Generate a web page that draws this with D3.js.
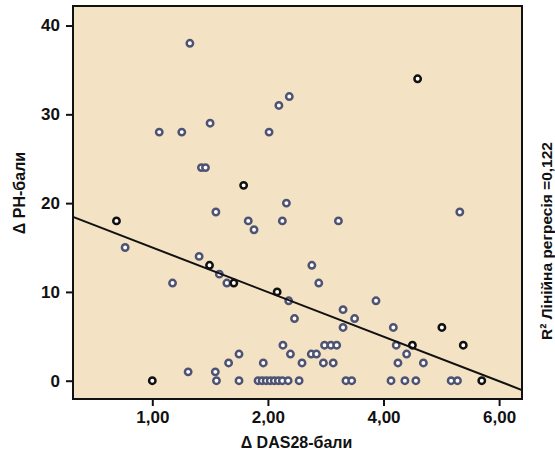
<!DOCTYPE html>
<html>
<head>
<meta charset="utf-8">
<script src="https://cdn.jsdelivr.net/npm/d3@7"></script>
<style>
  body { margin: 0; background: #fff; }
  svg { display: block; }
  text { font-family: "Liberation Sans Narrow", "Liberation Sans", Arial, sans-serif; font-weight: bold; fill: #111; }
</style>
</head>
<body>
<div class="chart"></div>
<script>
// data
const grayX = [0.65, 2.37, 2.19, 1.00, 0.12, 0.51, 2.02, 0.85, 0.92, 2.32, 1.10, 5.32, 1.66, 2.25, 3.22, 1.76,
  -0.47, 0.81, 2.76, 1.16, 0.35, 1.29, 2.88, 2.36, 3.87, 3.30, 2.46, 3.50, 3.30, 4.17,
  2.26, 2.98, 3.09, 3.19, 4.22, 1.50, 2.39, 2.75, 2.84, 4.40,
  1.32, 1.92, 2.59, 2.96, 3.13, 4.25, 4.69, 0.62, 1.09,
  1.11, 1.50, 1.83, 1.90, 1.97, 2.04, 2.11, 2.18, 2.25, 2.35, 2.54, 3.35, 3.45, 4.13, 4.37, 4.56, 5.17, 5.28];
const grayY = [38, 32, 31, 29, 28, 28, 28, 24, 24, 20, 19, 19, 18, 18, 18, 17,
  15, 14, 13, 12, 11, 11, 11, 9, 9, 8, 7, 7, 6, 6,
  4, 4, 4, 4, 4, 3, 3, 3, 3, 3,
  2, 2, 2, 2, 2, 2, 2, 1, 1,
  0, 0, 0, 0, 0, 0, 0, 0, 0, 0, 0, 0, 0, 0, 0, 0, 0, 0];
const blackX = [0.00, -0.62, 0.99, 1.41, 1.58, 2.16, 4.59, 5.01, 4.50, 5.38, 5.70];
const blackY = [0, 18, 13, 11, 22, 10, 34, 6, 4, 4, 0];

const xTicks = [0, 2, 4, 6];
const xTickLabels = ['1,00', '2,00', '4,00', '6,00'];
const yTicks = [0, 10, 20, 30, 40];

const fitIntercept = 15.0;
const fitSlope = -2.51;
const rSquared = '0,122';

const width = 555, height = 454;
const plot = { left: 73, right: 522, top: 6, bottom: 399 };

const x = d3.scaleLinear().domain([-1.372, 6.396]).range([plot.left, plot.right]);
const y = d3.scaleLinear().domain([-2.06, 42.2]).range([plot.bottom, plot.top]);

const svg = d3.select('.chart').append('svg')
  .attr('width', width)
  .attr('height', height);

svg.append('rect')
  .attr('x', plot.left).attr('y', plot.top)
  .attr('width', plot.right - plot.left).attr('height', plot.bottom - plot.top)
  .attr('fill', '#f3e3c4');

// points
const pts = grayX.map((v, i) => ({ x: v, y: grayY[i], c: '#4f5373' }))
  .concat(blackX.map((v, i) => ({ x: v, y: blackY[i], c: '#111' })));

svg.append('g').selectAll('circle')
  .data(pts)
  .join('circle')
  .attr('cx', d => x(d.x))
  .attr('cy', d => y(d.y))
  .attr('r', 3.2)
  .attr('fill', '#fff')
  .attr('stroke', d => d.c)
  .attr('stroke-width', 2.5);

// regression line
const [x0, x1] = x.domain();
svg.append('line')
  .attr('x1', x(x0)).attr('y1', y(fitIntercept + fitSlope * x0))
  .attr('x2', x(x1)).attr('y2', y(fitIntercept + fitSlope * x1))
  .attr('stroke', '#111')
  .attr('stroke-width', 2);

// frame
svg.append('rect')
  .attr('x', plot.left).attr('y', plot.top)
  .attr('width', plot.right - plot.left).attr('height', plot.bottom - plot.top)
  .attr('fill', 'none')
  .attr('stroke', '#111')
  .attr('stroke-width', 2);

// axes
const yAxis = d3.axisLeft(y).tickValues(yTicks).tickSize(7).tickPadding(6).tickFormat(d3.format('d'));
const xAxis = d3.axisBottom(x).tickValues(xTicks).tickSize(7).tickPadding(5)
  .tickFormat((d, i) => xTickLabels[i]);

const gy = svg.append('g').attr('transform', `translate(${plot.left},0)`).call(yAxis);
const gx = svg.append('g').attr('transform', `translate(0,${plot.bottom})`).call(xAxis);

[gy, gx].forEach(g => {
  g.select('.domain').remove();
  g.selectAll('.tick line').attr('stroke', '#111').attr('stroke-width', 2);
  g.selectAll('.tick text').attr('font-size', 17).attr('fill', '#111')
    .style('font-family', '"Liberation Sans Narrow", "Liberation Sans", Arial, sans-serif')
    .style('font-weight', 'bold');
});

// axis titles
svg.append('text')
  .attr('x', (plot.left + plot.right) / 2 - 1)
  .attr('y', 448)
  .attr('text-anchor', 'middle')
  .attr('font-size', 16)
  .text('Δ DAS28-бали');

svg.append('text')
  .attr('transform', `translate(25,193) rotate(-90)`)
  .attr('text-anchor', 'middle')
  .attr('font-size', 16)
  .text('Δ PH-бали');

svg.append('text')
  .attr('transform', `translate(552,241) rotate(-90)`)
  .attr('text-anchor', 'middle')
  .attr('font-size', 15.5)
  .text(`R² Лінійна регресія =${rSquared}`);
</script>
</body>
</html>
